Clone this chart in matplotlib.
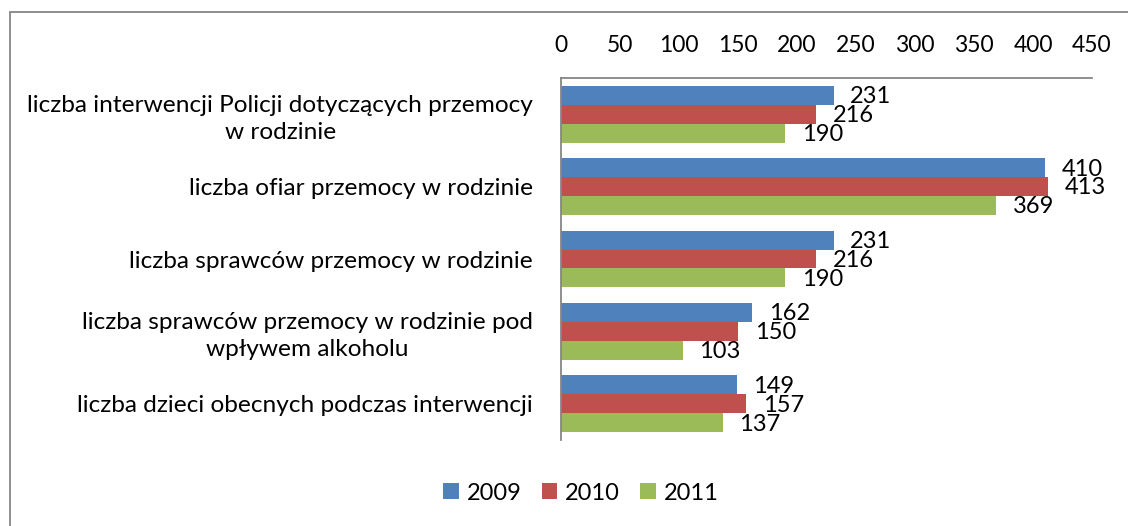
import numpy as np
import matplotlib
matplotlib.use("Agg")
from matplotlib import pyplot as plt
from matplotlib.patches import Rectangle

plt.rcParams['font.family'] = ['Lato', 'DejaVu Sans']

categories = [
    "liczba interwencji Policji dotyczących przemocy\nw rodzinie",
    "liczba ofiar przemocy w rodzinie",
    "liczba sprawców przemocy w rodzinie",
    "liczba sprawców przemocy w rodzinie pod\nwpływem alkoholu",
    "liczba dzieci obecnych podczas interwencji",
]
years = ["2009", "2010", "2011"]
v2009 = [231, 410, 231, 162, 149]
v2010 = [216, 413, 216, 150, 157]
v2011 = [190, 369, 190, 103, 137]
colors = ["#4F81BD", "#C0504D", "#9BBB59"]

fs = 16.5

fig = plt.figure(figsize=(11.28, 5.26), dpi=100)
ax = fig.add_axes([561 / 1128, 1 - 440 / 526, 531 / 1128, 362 / 526])

# ramka wykresu
fig.patches.append(Rectangle((10 / 1128, -0.1), 1.2, 1 - 12 / 526 + 0.1,
                             transform=fig.transFigure, fill=False,
                             edgecolor="#868686", linewidth=1.3))

y = np.arange(len(categories))
h = 0.262
series = [v2009, v2010, v2011]
for k, vals in enumerate(series):
    pos = y + (k - 1) * h
    ax.barh(pos, vals, height=h, color=colors[k], label=years[k])
    for p, v in zip(pos, vals):
        ax.annotate(str(v), (v, p), xytext=(12, -1), textcoords="offset points",
                    ha="left", va="center", fontsize=17)

ax.set_xlim(0, 450)
ax.set_ylim(4.5, -0.5)
ax.set_xticks(np.arange(0, 451, 50))
ax.xaxis.tick_top()
ax.tick_params(axis="x", length=0, pad=16, labelsize=fs)
ax.set_yticks(y)
ax.set_yticklabels(categories, fontsize=17.6, multialignment="center", linespacing=1.35)
ax.tick_params(axis="y", length=0, pad=20)

for s in ["right", "bottom"]:
    ax.spines[s].set_visible(False)
for s in ["left", "top"]:
    ax.spines[s].set_color("#868686")
    ax.spines[s].set_linewidth(1.3)

fig.legend(loc="center", bbox_to_anchor=(581 / 1128, 1 - 493 / 526), ncol=3,
           frameon=False, fontsize=17, handlelength=0.65, handleheight=0.65,
           handletextpad=0.35, columnspacing=0.85)

fig.savefig("out.png", dpi=100)
